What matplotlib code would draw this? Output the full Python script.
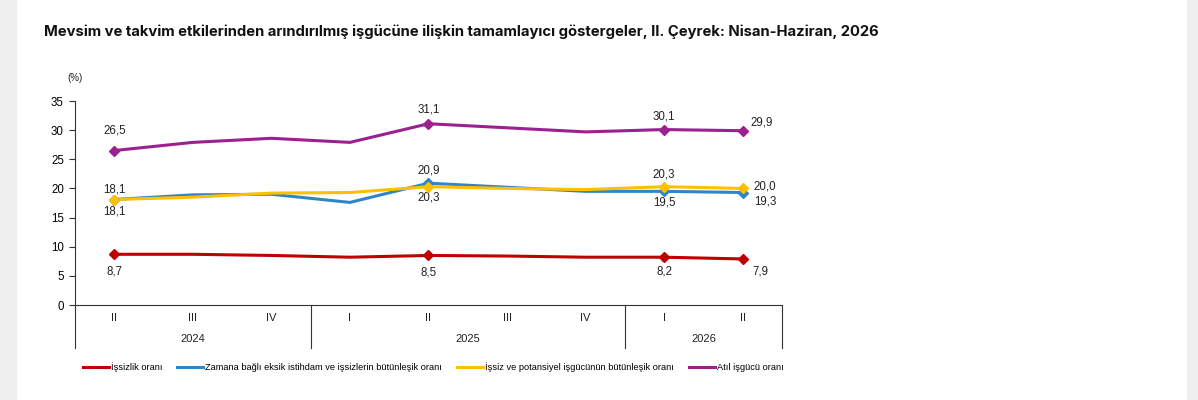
import matplotlib
matplotlib.use("Agg")
import matplotlib.pyplot as plt
from matplotlib.lines import Line2D
from matplotlib.patches import Rectangle
import matplotlib.transforms as mtransforms

quarters = ["II", "III", "IV", "I", "II", "III", "IV", "I", "II"]
years = ["2024", "2025", "2026"]
year_spans = [(0, 2), (3, 6), (7, 8)]

unemployment = [8.7, 8.7, 8.5, 8.2, 8.5, 8.4, 8.2, 8.2, 7.9]
time_related = [18.1, 18.9, 19.0, 17.6, 20.9, 20.2, 19.5, 19.5, 19.3]
potential = [18.1, 18.5, 19.2, 19.3, 20.3, 20.0, 19.8, 20.3, 20.0]
slack = [26.5, 27.9, 28.6, 27.9, 31.1, 30.4, 29.7, 30.1, 29.9]

series_names = [
    "İşsizlik oranı",
    "Zamana bağlı eksik istihdam ve işsizlerin bütünleşik oranı",
    "İşsiz ve potansiyel işgücünün bütünleşik oranı",
    "Atıl işgücü oranı",
]
colors = ["#C00000", "#2E86C8", "#FFC000", "#9B2191"]
labelled = [0, 4, 7, 8]

# label offsets in pixels (dx, dy) per series at labelled points
offsets = [
    [(0, -17), (0, -17), (0, -14), (10, -13)],
    [(0, 10), (0, 13), (0, -11), (11, -9)],
    [(0, -12), (0, -11), (0, 12), (11, 2)],
    [(0, 20), (0, 14), (0, 13), (8, 8)],
]

W, H = 1198, 400
fig = plt.figure(figsize=(W / 100, H / 100), dpi=100)
fig.patch.set_facecolor("white")
fig.patches.append(Rectangle((0, 0), 17 / W, 1, transform=fig.transFigure,
                             facecolor="#F0F0F0", edgecolor="none", zorder=0))
fig.patches.append(Rectangle((1187 / W, 0), 11 / W, 1, transform=fig.transFigure,
                             facecolor="#F0F0F0", edgecolor="none", zorder=0))

fig.text(44 / W, 1 - 32 / H,
         "Mevsim ve takvim etkilerinden arındırılmış işgücüne ilişkin tamamlayıcı göstergeler, II. Çeyrek: Nisan-Haziran, 2026",
         family="Inter", weight="bold", fontsize=10.65, ha="left", va="center", color="#111111")

left, right, top, bottom = 75, 782, 101, 305
ax = fig.add_axes([left / W, 1 - bottom / H, (right - left) / W, (bottom - top) / H])
ax.set_facecolor("none")

x = list(range(len(quarters)))
all_series = [unemployment, time_related, potential, slack]
for s, vals in enumerate(all_series):
    ax.plot(x, vals, color=colors[s], lw=2.2, solid_joinstyle="round", zorder=3)
    ax.plot([x[i] for i in labelled], [vals[i] for i in labelled], ls="none",
            marker="D", ms=5.5, color=colors[s], zorder=4)
    for k, i in enumerate(labelled):
        dx, dy = offsets[s][k]
        ax.annotate(f"{vals[i]:.1f}".replace(".", ","), (x[i], vals[i]),
                    xytext=(dx, dy), textcoords="offset pixels",
                    ha="left" if dx else "center", va="center",
                    fontsize=8.3, family="Liberation Sans", color="#222222")

ax.set_xlim(-0.5, len(quarters) - 0.5)
ax.set_ylim(0, 35)
ax.set_yticks(range(0, 36, 5))
ax.tick_params(axis="y", labelsize=8.3, length=4, width=0.8, color="#333333", pad=4)
for lbl in ax.get_yticklabels():
    lbl.set_family("Liberation Sans")
ax.set_xticks([])
for sp in ["top", "right"]:
    ax.spines[sp].set_visible(False)
ax.spines["left"].set_color("#333333")
ax.spines["bottom"].set_color("#333333")
ax.spines["left"].set_linewidth(0.8)
ax.spines["bottom"].set_linewidth(0.8)

trans = mtransforms.blended_transform_factory(ax.transData, ax.transAxes)
ph = bottom - top
for i, q in enumerate(quarters):
    ax.text(i, -13 / ph, q, transform=trans, ha="center", va="center",
            fontsize=8, family="Liberation Sans", color="#222222")
for yr, (a, b) in zip(years, year_spans):
    ax.text((a + b) / 2, -34 / ph, yr, transform=trans, ha="center", va="center",
            fontsize=8, family="Liberation Sans", color="#222222")
for xb in [-0.5, 2.5, 6.5, 8.5]:
    ax.add_line(Line2D([xb, xb], [0, -43 / ph], transform=trans, color="#333333",
                       lw=0.8, clip_on=False))

ax.text(0, 1 + 23 / ph, "(%)", transform=ax.transAxes, ha="center", va="center",
        fontsize=7, family="Liberation Sans", color="#222222")

handles = [Line2D([], [], color=c, lw=2.2) for c in colors]
fig.legend(handles, series_names, loc="center left", bbox_to_anchor=(83 / W, 1 - 367 / H),
           ncol=4, frameon=False, prop={"family": "Liberation Sans", "size": 6.7},
           handlelength=2.8, handletextpad=0.2, columnspacing=1.6, borderpad=0,
           borderaxespad=0)

fig.savefig("out.png", dpi=100)
